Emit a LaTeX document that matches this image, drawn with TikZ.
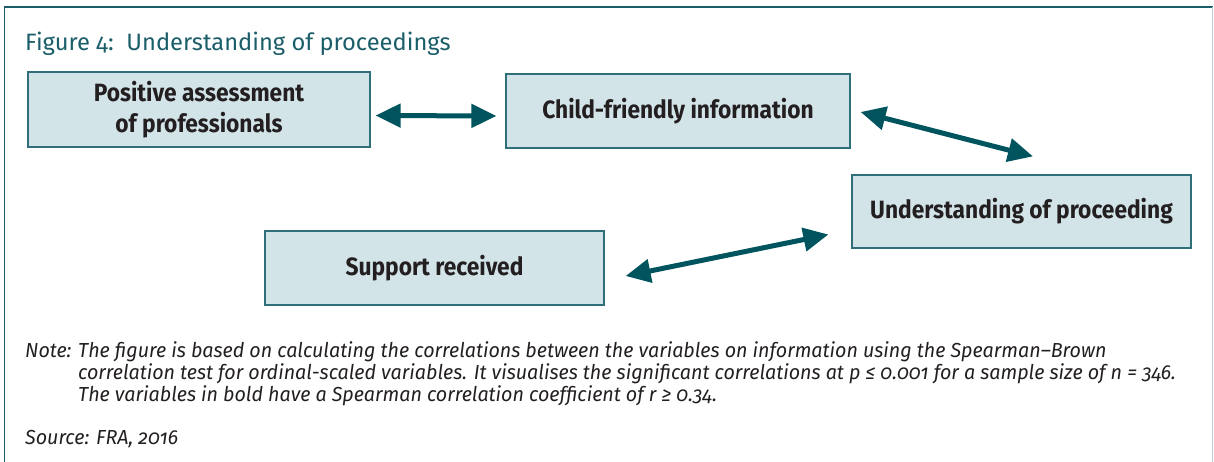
\documentclass[tikz,border=0pt]{standalone}
\usepackage{fontspec}
\setmainfont{Fira Sans}[Numbers=OldStyle]
\newfontfamily\boxfont{Fira Sans}[FakeStretch=0.91]
\newfontfamily\notefont{Fira Sans}[Numbers=OldStyle,FakeStretch=0.97]
\usetikzlibrary{arrows.meta}
\definecolor{frateal}{HTML}{1B5E69}
\definecolor{arrowteal}{HTML}{00545D}
\definecolor{boxfill}{HTML}{D3E4E9}
\definecolor{boxline}{HTML}{2F6F79}
\definecolor{textdark}{HTML}{231F20}
\definecolor{frameright}{HTML}{B9CFD4}
\begin{document}
\begin{tikzpicture}[x=1pt,y=-1pt,
  var/.style={draw=boxline,line width=1.2pt,fill=boxfill,text=textdark,align=center,
    font=\boxfont\bfseries\fontsize{25}{31}\selectfont,inner sep=0pt},
  corr/.style={draw=arrowteal,line width=5pt,{Triangle[length=25pt,width=23pt]}-{Triangle[length=25pt,width=23pt]}},
  note/.style={anchor=base west,inner sep=0pt,text=textdark,font=\notefont\itshape\fontsize{20.3}{24}\selectfont}]
\useasboundingbox (0,0) rectangle (1214,462);
\draw [frateal,line width=2pt] (4,7.5) -- (1213,7.5);
\draw [frateal,line width=1.3pt] (4.5,7.5) -- (4.5,462);
\draw [frameright,line width=1.3pt] (1212.5,7.5) -- (1212.5,462);
\node [anchor=base west,inner sep=0pt,text=frateal,font=\fontsize{23.7}{28}\selectfont] (title) at (25,51) {Figure 4:\ \ Understanding of proceedings};
\node [var,minimum width=342,minimum height=75] (pos) at (199,109.5) {Positive assessment\\of professionals};
\node [var,minimum width=344,minimum height=74] (child) at (678,111) {Child-friendly information};
\node [var,minimum width=339,minimum height=73] (under) at (1021.5,211.5) {Understanding of proceeding};
\node [var,minimum width=339,minimum height=74] (support) at (434.5,268) {Support received};
\draw [corr] ([shift={(5,6)}]pos.east) -- ([shift={(-9,5)}]child.west);
\draw [corr] ([shift={(10,1)}]child.east) -- ([shift={(11.5,-18)}]under.north);
\draw [corr] ([shift={(21,8)}]support.east) -- ([shift={(-23,23)}]under.west);
\node [note] (notelabel) at (25,357) {Note:};
\node [note] (note1) at (78,357) {The figure is based on calculating the correlations between the variables on information using the Spearman–Brown};
\node [note] (note2) at (78,379) {correlation test for ordinal-scaled variables. It visualises the significant correlations at \textit{p} ≤ 0.001 for a sample size of \textit{n} = 346.};
\node [note] (note3) at (78,401) {The variables in bold have a Spearman correlation coefficient of \textit{r} ≥ 0.34.};
\node [note] (source) at (25,444) {Source: FRA, 2016};
\end{tikzpicture}
\end{document}
